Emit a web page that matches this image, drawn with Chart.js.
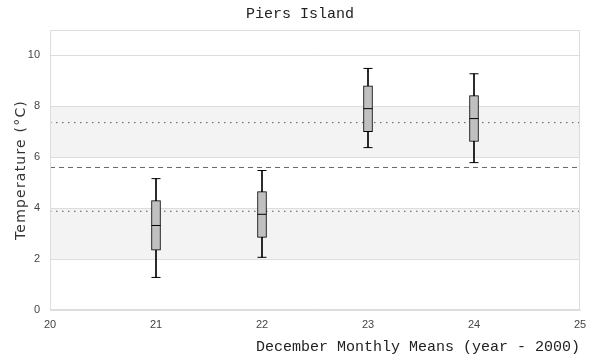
<!DOCTYPE html>
<html><head><meta charset="utf-8">
<script src="https://cdn.jsdelivr.net/npm/chart.js@4/dist/chart.umd.min.js"></script>
<style>html,body{margin:0;padding:0;background:#fff}#wrap{width:600px;height:360px}</style>
</head><body><div id="wrap"><canvas id="c" width="600" height="360"></canvas></div>
<script>
const years = [21, 22, 23, 24];
const whiskerLow = [1.28, 2.07, 6.38, 5.79];
const q1 = [2.35, 2.85, 7.01, 6.62];
const median = [3.32, 3.76, 7.91, 7.52];
const q3 = [4.30, 4.65, 8.81, 8.42];
const whiskerHigh = [5.16, 5.48, 9.49, 9.28];
const meanLine = 5.6;
const sdLines = [3.88, 7.36];
const bands = [[2, 4], [6, 8]];
const yTicks = [0, 2, 4, 6, 8, 10];
const xRange = [20, 25];
const yRange = [0, 11];

const mono = "'Liberation Mono', monospace";
const sans = "'DejaVu Sans', sans-serif";
const tickFont = "'Liberation Sans', Arial, sans-serif";

const bgPlugin = {
  id: 'bg',
  afterLayout(chart) {
    const y = chart.scales.y;
    if (y && !y._wrapped) {
      const orig = y.drawTitle;
      y.drawTitle = function () {
        const ctx = this.ctx;
        ctx.save();
        ctx.letterSpacing = '1.2px';
        orig.apply(this, arguments);
        ctx.restore();
      };
      y._wrapped = true;
    }
  },
  beforeDatasetsDraw(chart) {
    const {ctx, chartArea: a, scales: {y}} = chart;
    ctx.save();
    ctx.fillStyle = '#f3f3f3';
    bands.forEach(([lo, hi]) => {
      const t = y.getPixelForValue(hi), b = y.getPixelForValue(lo);
      ctx.fillRect(a.left, t, a.right - a.left, b - t);
    });
    ctx.strokeStyle = '#dddddd';
    ctx.lineWidth = 1;
    bands.forEach(([lo, hi]) => {
      [lo, hi].forEach(v => {
        const p = Math.round(y.getPixelForValue(v)) + 0.5;
        ctx.beginPath(); ctx.moveTo(a.left, p); ctx.lineTo(a.right, p); ctx.stroke();
      });
    });
    ctx.restore();
  },
  afterDraw(chart) {
    const {ctx, chartArea: a} = chart;
    ctx.save();
    ctx.strokeStyle = '#dddddd';
    ctx.lineWidth = 1;
    ctx.strokeRect(Math.round(a.left) + 0.5, Math.round(a.top) + 0.5, Math.round(a.right - a.left) - 1, Math.round(a.bottom - a.top) - 1);
    ctx.restore();
  }
};

const hline = (v, dash, color) => ({
  type: 'line',
  data: [{x: xRange[0], y: v}, {x: xRange[1], y: v}],
  borderColor: color, borderWidth: 1, borderDash: dash,
  pointRadius: 0, fill: false, order: 5
});

new Chart(document.getElementById('c'), {
  data: {
    datasets: [
      hline(meanLine, [5, 4], '#666666'),
      hline(sdLines[0], [1.5, 4.5], '#555555'),
      hline(sdLines[1], [1.5, 4.5], '#555555'),
      {
        type: 'bar',
        data: years.map((x, i) => ({x, y: [whiskerLow[i], whiskerHigh[i]]})),
        backgroundColor: '#000000', borderWidth: 0, barThickness: 1, order: 4, grouped: false
      },
      {
        type: 'bar',
        data: years.map((x, i) => ({x, y: [q1[i], q3[i]]})),
        backgroundColor: '#c0c0c0', borderColor: '#000000', borderWidth: 1,
        borderSkipped: false, barThickness: 9, order: 3, grouped: false
      },
      {
        type: 'scatter',
        data: years.map((x, i) => ({x, y: median[i]})),
        pointStyle: 'line', pointRadius: 4.5, borderColor: '#000', borderWidth: 1, order: 1
      },
      {
        type: 'scatter',
        data: years.map((x, i) => ({x, y: whiskerLow[i]})).concat(years.map((x, i) => ({x, y: whiskerHigh[i]}))),
        pointStyle: 'line', pointRadius: 4.5, borderColor: '#000', borderWidth: 1, order: 2
      }
    ]
  },
  options: {
    responsive: false, animation: false, devicePixelRatio: 1,
    layout: {padding: {left: 0, right: 0, top: 0, bottom: 0}},
    plugins: {
      legend: {display: false}, tooltip: {enabled: false},
      title: {display: true, text: 'Piers Island', color: '#222', font: {family: mono, size: 15, weight: 'normal', lineHeight: 1.2}, padding: {top: 5, bottom: 7}}
    },
    scales: {
      x: {
        type: 'linear', min: xRange[0], max: xRange[1], offset: false,
        afterFit: s => { s.height = 50; },
        grid: {display: false, drawTicks: false},
        border: {display: true, color: '#dddddd'},
        ticks: {stepSize: 1, color: '#444', font: {family: tickFont, size: 11}, padding: 8},
        title: {display: true, text: 'December Monthly Means (year - 2000)', align: 'end', color: '#222', font: {family: mono, size: 15, lineHeight: 1.2}, padding: {top: 0, bottom: 4}}
      },
      y: {
        min: yRange[0], max: yRange[1],
        afterFit: s => { s.width = 50; },
        afterBuildTicks: s => { s.ticks = yTicks.map(v => ({value: v})); },
        grid: {color: '#dddddd', drawTicks: false},
        border: {display: true, color: '#dddddd'},
        ticks: {color: '#444', font: {family: tickFont, size: 11}, padding: 10},
        title: {display: true, text: 'Temperature (°C)', color: '#333', font: {family: sans, size: 14, lineHeight: 1.2}, padding: {top: 13, bottom: 0}}
      },
      yRight: {
        position: 'right', min: yRange[0], max: yRange[1],
        afterFit: s => { s.width = 20; },
        grid: {display: false, drawTicks: false},
        border: {display: false},
        ticks: {display: false}
      }
    }
  },
  plugins: [bgPlugin]
});
</script></body></html>
